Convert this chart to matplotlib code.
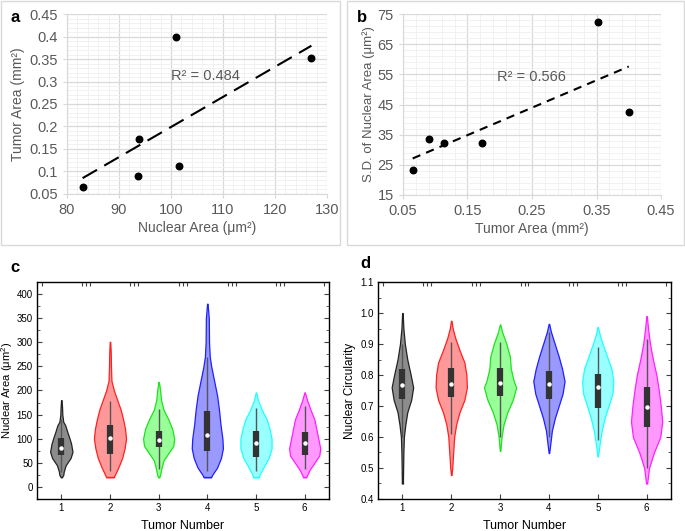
import numpy as np
import matplotlib
matplotlib.use('Agg')
import matplotlib.pyplot as plt
from matplotlib.patches import Rectangle
from matplotlib.ticker import MultipleLocator

plt.rcParams['font.family'] = ['Liberation Sans', 'DejaVu Sans']
plt.rcParams['mathtext.fontset'] = 'custom'
plt.rcParams['mathtext.rm'] = 'Liberation Sans'
plt.rcParams['mathtext.it'] = 'Liberation Sans:italic'

# --- datos de los paneles a y b ---
nuclear_area = [83.0, 93.6, 93.9, 101.0, 101.6, 127.0]
tumor_area = [0.065, 0.090, 0.173, 0.400, 0.113, 0.353]
sd_nuclear = [23.2, 33.7, 32.1, 42.5, 32.1, 72.2]
r2_a = '0.484'
r2_b = '0.566'
b_xticks = [0.05, 0.15, 0.25, 0.35, 0.45]
b_yticks = [15, 25, 35, 45, 55, 65, 75]

# --- violines panel c: (valores, semi-anchos) ---
c_y = [
    [20, 25, 32, 45, 60, 73, 90, 100, 115, 128, 135, 150, 165, 180],
    [20, 25, 40, 60, 80, 100, 120, 140, 160, 180, 200, 220, 250, 280, 301],
    [20, 25, 40, 55, 70, 85, 100, 120, 140, 160, 180, 200, 218],
    [20, 25, 40, 60, 80, 100, 130, 160, 190, 220, 250, 270, 300, 350, 380],
    [20, 25, 40, 60, 80, 100, 120, 140, 160, 180, 196],
    [20, 35, 50, 65, 80, 100, 120, 140, 160, 180, 196],
]
c_w = [
    [0.01, 0.04, 0.05, 0.09, 0.19, 0.23, 0.2, 0.17, 0.12, 0.08, 0.04, 0.02, 0.015, 0.005],
    [0.075, 0.1, 0.17, 0.25, 0.3, 0.33, 0.31, 0.27, 0.22, 0.15, 0.08, 0.03, 0.02, 0.015, 0.005],
    [0.01, 0.03, 0.06, 0.1, 0.2, 0.3, 0.32, 0.28, 0.2, 0.1, 0.05, 0.03, 0.005],
    [0.075, 0.1, 0.2, 0.28, 0.32, 0.31, 0.27, 0.24, 0.2, 0.14, 0.08, 0.05, 0.035, 0.03, 0.005],
    [0.06, 0.07, 0.15, 0.26, 0.32, 0.32, 0.28, 0.22, 0.12, 0.04, 0.005],
    [0.03, 0.1, 0.2, 0.3, 0.32, 0.28, 0.24, 0.2, 0.12, 0.05, 0.005],
]
c_q1 = [66, 68, 82, 75, 63, 67]
c_q3 = [101, 128, 117, 158, 115, 113]
c_med = [81, 101, 97, 108, 91, 91]
c_wlo = [30, 32, 38, 33, 33, 38]
c_whi = [140, 179, 162, 270, 163, 168]

# --- violines panel d ---
d_y = [
    [0.45, 0.5, 0.55, 0.6, 0.64, 0.68, 0.72, 0.76, 0.8, 0.85, 0.9, 0.95, 1.0],
    [0.477, 0.5, 0.55, 0.6, 0.64, 0.68, 0.72, 0.76, 0.8, 0.84, 0.88, 0.92, 0.95, 0.975],
    [0.555, 0.6, 0.64, 0.68, 0.72, 0.76, 0.78, 0.82, 0.86, 0.9, 0.94, 0.963],
    [0.548, 0.58, 0.62, 0.66, 0.7, 0.74, 0.78, 0.82, 0.86, 0.9, 0.94, 0.965],
    [0.537, 0.58, 0.62, 0.66, 0.7, 0.74, 0.78, 0.82, 0.86, 0.9, 0.93, 0.955],
    [0.45, 0.5, 0.55, 0.6, 0.65, 0.7, 0.75, 0.8, 0.85, 0.9, 0.95, 0.99],
]
d_w = [
    [0.01, 0.015, 0.02, 0.03, 0.06, 0.1, 0.18, 0.22, 0.17, 0.1, 0.05, 0.02, 0.005],
    [0.005, 0.02, 0.04, 0.06, 0.1, 0.17, 0.27, 0.32, 0.31, 0.27, 0.17, 0.08, 0.03, 0.005],
    [0.005, 0.03, 0.07, 0.15, 0.26, 0.33, 0.28, 0.22, 0.2, 0.13, 0.04, 0.005],
    [0.005, 0.03, 0.06, 0.12, 0.2, 0.28, 0.32, 0.27, 0.2, 0.12, 0.04, 0.005],
    [0.005, 0.04, 0.08, 0.14, 0.22, 0.3, 0.32, 0.28, 0.19, 0.1, 0.04, 0.005],
    [0.01, 0.05, 0.15, 0.28, 0.32, 0.29, 0.25, 0.2, 0.13, 0.07, 0.03, 0.005],
]
d_q1 = [0.724, 0.728, 0.733, 0.722, 0.695, 0.632]
d_q3 = [0.820, 0.822, 0.823, 0.813, 0.803, 0.760]
d_med = [0.767, 0.770, 0.775, 0.772, 0.762, 0.697]
d_wlo = [0.60, 0.61, 0.60, 0.60, 0.59, 0.50]
d_whi = [0.90, 0.905, 0.905, 0.94, 0.89, 0.915]

tumores = [1, 2, 3, 4, 5, 6]
relleno = ['#8c8c8c', '#ff9999', '#99ff99', '#9999ff', '#99ffff', '#ff99ff']
borde = ['#222222', '#ff2020', '#20e020', '#2020ff', '#20ffff', '#ff20ff']
top_ticks = [0.6, 1.42, 1.5, 1.58, 2.42, 2.5, 2.58, 3.42, 3.5, 3.58,
             4.42, 4.5, 4.58, 5.42, 5.5, 5.58, 6.4]

gris = '#595959'

fig = plt.figure(figsize=(6.85, 5.31), dpi=100)

# marcos de los paneles a y b
for x0, x1 in [(1, 340), (347, 684)]:
    fig.add_artist(Rectangle((x0 / 685, 1 - 245 / 531), (x1 - x0) / 685, 244 / 531,
                             transform=fig.transFigure, fill=False,
                             edgecolor='#d9d9d9', lw=1))


def estilo_excel(ax):
    ax.grid(which='major', color='#d9d9d9', lw=0.9)
    ax.grid(which='minor', color='#efefef', lw=0.6)
    ax.set_axisbelow(True)
    for s in ['top', 'right']:
        ax.spines[s].set_visible(False)
    for s in ['left', 'bottom']:
        ax.spines[s].set_color('#d9d9d9')
    ax.tick_params(which='major', length=3, color='#d9d9d9', labelsize=10.5,
                   labelcolor=gris, direction='out')
    ax.tick_params(which='minor', length=0)


# --- a ---
axa = fig.add_axes([0.0978, 0.6347, 0.3796, 0.3389])
axa.scatter(nuclear_area, tumor_area, s=22, color='black', zorder=3)
p = np.polyfit(nuclear_area, tumor_area, 1)
xs = np.array([min(nuclear_area), max(nuclear_area)])
axa.plot(xs, np.polyval(p, xs), color='black', lw=1.5, dashes=(8, 4))
axa.set_xlim(80, 130)
axa.set_ylim(0.05, 0.45)
axa.xaxis.set_major_locator(MultipleLocator(10))
axa.xaxis.set_minor_locator(MultipleLocator(2))
axa.yaxis.set_major_locator(MultipleLocator(0.05))
axa.yaxis.set_minor_locator(MultipleLocator(0.01))
estilo_excel(axa)
axa.yaxis.set_major_formatter(plt.FuncFormatter(lambda v, _: f'{v:.3g}'))
axa.text(100, 0.313, 'R² = ' + r2_a, color=gris, fontsize=10.5, va='center')
axa.set_xlabel('Nuclear Area (μm²)', color=gris, fontsize=10, labelpad=3)
axa.set_ylabel('Tumor Area (mm²)', color=gris, fontsize=10, labelpad=3)

# --- b ---
axb = fig.add_axes([0.5883, 0.6328, 0.3767, 0.3408])
axb.scatter(tumor_area, sd_nuclear, s=22, color='black', zorder=3)
p = np.polyfit(tumor_area, sd_nuclear, 1)
xs = np.array([min(tumor_area), max(tumor_area)])
axb.plot(xs, np.polyval(p, xs), color='black', lw=1.5, dashes=(4, 3))
axb.set_xlim(0.05, 0.45)
axb.set_ylim(15, 75)
axb.set_xticks(b_xticks)
axb.set_xticks(np.arange(0.05, 0.451, 0.02), minor=True)
axb.set_yticks(b_yticks)
axb.set_yticks(np.arange(15, 75.1, 2), minor=True)
estilo_excel(axb)
axb.xaxis.set_major_formatter(plt.FuncFormatter(lambda v, _: f'{v:.3g}'))
axb.text(0.195, 54.2, 'R² = ' + r2_b, color=gris, fontsize=10.5, va='center')
axb.set_xlabel('Tumor Area (mm²)', color=gris, fontsize=10, labelpad=3)
axb.set_ylabel('S.D. of Nuclear Area (μm²)', color=gris, fontsize=9.5, labelpad=2)


def violines(ax, ys, ws, q1, q3, med, wlo, whi):
    for i, t in enumerate(tumores):
        y = np.array(ys[i])
        w = np.array(ws[i])
        ax.fill_betweenx(y, t - w, t + w, facecolor=relleno[i], edgecolor=borde[i],
                         lw=0.9, zorder=2)
        ax.plot([t - w[0], t + w[0]], [y[0], y[0]], color=borde[i], lw=0.9, zorder=2)
        ax.vlines(t, wlo[i], whi[i], color='#555555', lw=1, zorder=3)
        ax.vlines(t, q1[i], q3[i], color='#333333', lw=4.5, zorder=4)
        ax.plot(t, med[i], 'o', color='white', ms=2.2, zorder=5)
    ax.set_xlim(0.5, 6.5)
    ax.set_xticks(tumores)
    for s in ax.spines.values():
        s.set_color('#404040')
        s.set_linewidth(1)
    ax.tick_params(which='both', direction='in', right=True, labelsize=7,
                   color='#404040', pad=3)
    ax.tick_params(which='major', length=3.5)
    ax.tick_params(which='minor', length=2)
    ax.tick_params(axis='x', which='minor', bottom=False)
    top = ax.twiny()
    top.set_xlim(0.5, 6.5)
    top.set_xticks(top_ticks)
    top.tick_params(direction='in', length=3, labeltop=False, color='#404040')
    ax.set_xlabel('Tumor Number', fontsize=9, labelpad=5)


# --- c ---
axc = fig.add_axes([0.054, 0.0603, 0.4263, 0.4086])
violines(axc, c_y, c_w, c_q1, c_q3, c_med, c_wlo, c_whi)
axc.set_ylim(-25, 425)
axc.yaxis.set_major_locator(MultipleLocator(50))
axc.yaxis.set_minor_locator(MultipleLocator(25))
axc.set_ylabel('Nuclear Area (μm$^2$)', fontsize=8, labelpad=1)

# --- d ---
axd = fig.add_axes([0.5518, 0.0603, 0.4278, 0.4086])
violines(axd, d_y, d_w, d_q1, d_q3, d_med, d_wlo, d_whi)
axd.set_ylim(0.4, 1.1)
axd.yaxis.set_major_locator(MultipleLocator(0.1))
axd.yaxis.set_minor_locator(MultipleLocator(0.05))
axd.yaxis.set_major_formatter(plt.FuncFormatter(lambda v, _: f'{v:.1f}'))
axd.set_ylabel('Nuclear Circularity', fontsize=8.5, labelpad=3)

# letras de panel
for letra, x, y in [('a', 15, 18), ('b', 362, 18), ('c', 15, 268), ('d', 365, 263)]:
    fig.text(x / 685, 1 - y / 531, letra, fontsize=12, fontweight='bold',
             ha='center', va='center')

fig.savefig('out.png', dpi=100)
